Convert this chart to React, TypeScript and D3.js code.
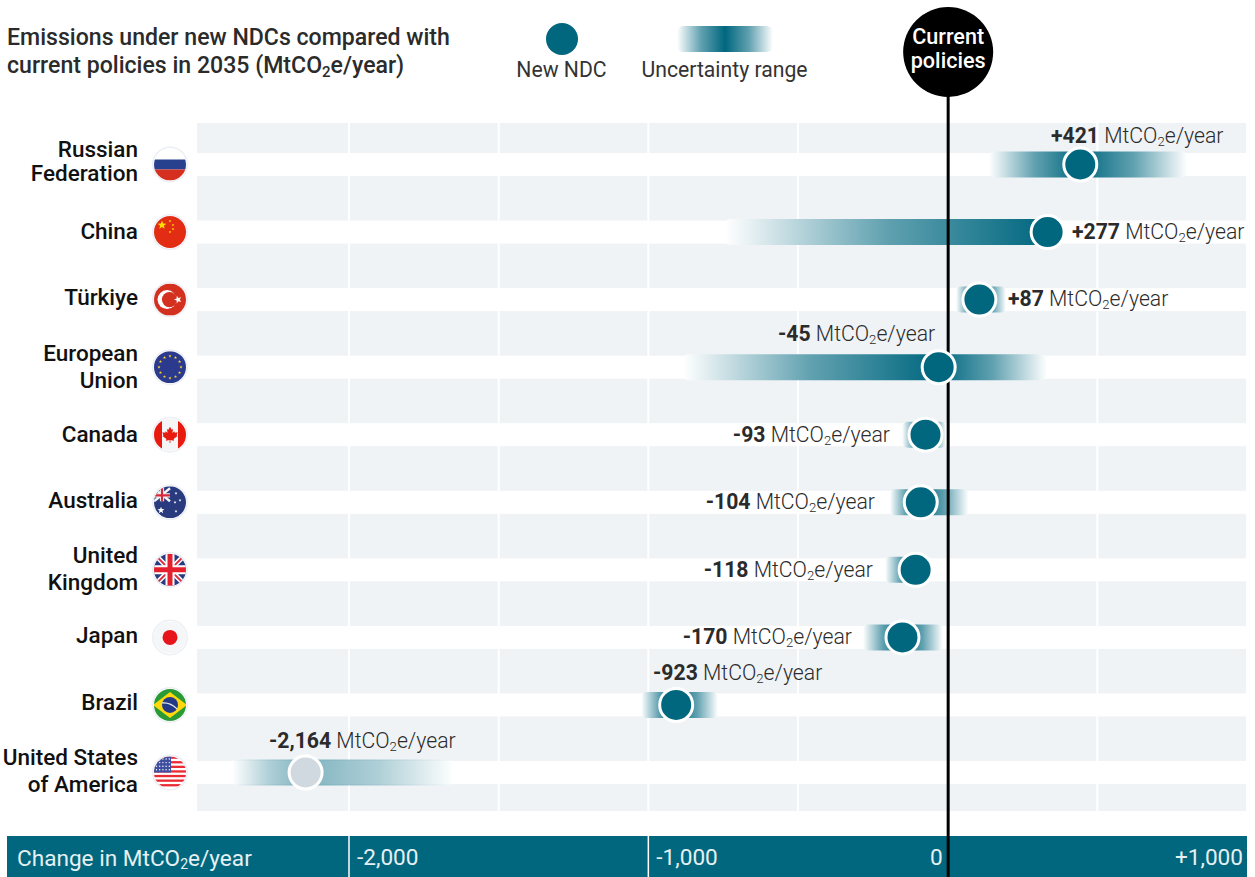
import React from "react";
import * as d3 from "d3";

const countries = ["Russian Federation","China","Türkiye","European Union","Canada","Australia","United Kingdom","Japan","Brazil","United States of America"];
const labelLines = [["Russian","Federation"],["China"],["Türkiye"],["European","Union"],["Canada"],["Australia"],["United","Kingdom"],["Japan"],["Brazil"],["United States","of America"]];
const valueLabels = ["+421","+277","+87","-45","-93","-104","-118","-170","-923","-2,164"];
const dotValues = [443,334,106,-30,-74,-90,-107,-151,-907,-2145];
const lowValues = [138,-744,28,-884,-152,-193,-209,-283,-1024,-2391];
const highValues = [800,334,195,332,-5,70,-95,-16,-767,-1649];
const axisTicks = [-2000,-1500,-1000,-500,0,500,1000];
const axisLabelTicks = [-2000,-1000,0,1000];
const axisLabels = ["-2,000","-1,000","0","+1,000"];
const mapleLeaf = [[0,-8],[1.6,-5],[3,-5.8],[2.4,-1.6],[4.2,-3.4],[4.8,-2],[7.6,-2.4],[6.6,0.8],[7.6,1.4],[3.6,4.4],[4,6],[0.4,5.4],[0.4,8.4],[-0.4,8.4],[-0.4,5.4],[-4,6],[-3.6,4.4],[-7.6,1.4],[-6.6,0.8],[-7.6,-2.4],[-4.8,-2],[-4.2,-3.4],[-2.4,-1.6],[-3,-5.8],[-1.6,-5]];

const TEAL = "#00677F";
const FONT = "Roboto, sans-serif";
const tint = d3.interpolateRgb("#fff", TEAL);

const x = d3.scaleLinear().domain([-2000,1000]).range([349,1247]);
const y = d3.scalePoint<string>().domain(countries).range([164.5,772.5]);

// label placement per row: anchor, x position, y offset from the row centre
const valuePlace: [string, number, number][] = [
  ["start",1051,-29],["start",1072,-0.5],["start",1008,-1],["start",778,-33],
  ["end",890,0],["end",875,0],["end",873,0],["end",852,0],["start",653,-31.5],["start",269,-32],
];
const nameOffsets = [[-15,9],[-0.5],[-1.5],[-13,14],[0],[-1.5],[-14,13.5],[-1.5],[-1.5],[-14.5,12.5]];

function Star({cx,cy,r,fill,rot=0}:{cx:number;cy:number;r:number;fill:string;rot?:number}) {
  const pts = d3.range(10).map(i=>{
    const a = (i*36-90+rot)*Math.PI/180;
    const rr = i%2===0?r:r*0.42;
    return `${cx+rr*Math.cos(a)},${cy+rr*Math.sin(a)}`;
  }).join(" ");
  return <polygon points={pts} fill={fill}/>;
}

function Flag({i,cy}:{i:number;cy:number}) {
  const cx = 170, r = 16;
  const L = cx-r, T = cy-r, S = 2*r;
  let body: React.ReactNode = null;
  if (i===0) body = <>
    <rect x={L} y={T} width={S} height={S} fill="#fff"/>
    <rect x={L} y={cy-5} width={S} height={10} fill="#27418F"/>
    <rect x={L} y={cy+5} width={S} height={11} fill="#D5301F"/>
  </>;
  if (i===1) body = <>
    <rect x={L} y={T} width={S} height={S} fill="#E22C14"/>
    <Star cx={cx-8} cy={cy-7} r={4.6} fill="#FFDE00"/>
    <Star cx={cx} cy={cy-11} r={1.4} fill="#FFDE00"/>
    <Star cx={cx+3} cy={cy-7} r={1.4} fill="#FFDE00"/>
    <Star cx={cx+3} cy={cy-3} r={1.4} fill="#FFDE00"/>
    <Star cx={cx} cy={cy+0} r={1.4} fill="#FFDE00"/>
  </>;
  if (i===2) body = <>
    <rect x={L} y={T} width={S} height={S} fill="#D3301F"/>
    <circle cx={cx-3} cy={cy} r={9.5} fill="#fff"/>
    <circle cx={cx-0.5} cy={cy} r={7.6} fill="#D3301F"/>
    <Star cx={cx+8} cy={cy} r={4} fill="#fff" rot={-90}/>
  </>;
  if (i===3) body = <>
    <rect x={L} y={T} width={S} height={S} fill="#2B3A8C"/>
    {d3.range(12).map(k=>{
      const a = k*30*Math.PI/180;
      return <Star key={k} cx={cx+11*Math.sin(a)} cy={cy-11*Math.cos(a)} r={1.6} fill="#FFD92E"/>;
    })}
  </>;
  if (i===4) body = <>
    <rect x={L} y={T} width={S} height={S} fill="#F5F5F5"/>
    <rect x={L} y={T} width={8} height={S} fill="#E8190F"/>
    <rect x={cx+8} y={T} width={8} height={S} fill="#E8190F"/>
    <polygon points={mapleLeaf.map(([a,b])=>`${cx+a},${cy+b}`).join(" ")} fill="#E8190F"/>
  </>;
  if (i===5) body = <>
    <rect x={L} y={T} width={S} height={S} fill="#2A3A7E"/>
    <path d={`M${L},${T+2}L${cx},${cy-1}M${cx},${T+2}L${L},${cy-1}`} stroke="#F4F4F4" strokeWidth={2.4}/>
    <path d={`M${cx-8},${T+1}V${cy-1}M${L},${cy-7}H${cx}`} stroke="#F4F4F4" strokeWidth={4.2}/>
    <path d={`M${cx-8},${T+1}V${cy-1}M${L},${cy-7}H${cx}`} stroke="#D8283C" strokeWidth={2.2}/>
    <Star cx={cx-9} cy={cy+8} r={3.6} fill="#fff"/>
    <Star cx={cx+6} cy={cy+9} r={1.5} fill="#fff"/>
    <Star cx={cx+6} cy={cy-9} r={1.5} fill="#fff"/>
    <Star cx={cx+10} cy={cy-2} r={1.5} fill="#fff"/>
    <Star cx={cx+5} cy={cy} r={1.5} fill="#fff"/>
  </>;
  if (i===6) body = <>
    <rect x={L} y={T} width={S} height={S} fill="#2A3A7E"/>
    <path d={`M${L},${T}L${L+S},${T+S}M${L+S},${T}L${L},${T+S}`} stroke="#fff" strokeWidth={5}/>
    <path d={`M${L},${T}L${L+S},${T+S}M${L+S},${T}L${L},${T+S}`} stroke="#DE2A3C" strokeWidth={2}/>
    <path d={`M${cx},${T}V${T+S}M${L},${cy}H${L+S}`} stroke="#fff" strokeWidth={9}/>
    <path d={`M${cx},${T}V${T+S}M${L},${cy}H${L+S}`} stroke="#E5202E" strokeWidth={5}/>
  </>;
  if (i===7) body = <>
    <rect x={L} y={T} width={S} height={S} fill="#F5F6F8"/>
    <circle cx={cx} cy={cy} r={7.5} fill="#E8141C"/>
  </>;
  if (i===8) body = <>
    <rect x={L} y={T} width={S} height={S} fill="#2A9A35"/>
    <polygon points={`${L-1},${cy} ${cx},${T+3} ${L+S+1},${cy} ${cx},${T+S-3}`} fill="#FFD80E"/>
    <circle cx={cx} cy={cy} r={8} fill="#253A86"/>
    <path d={`M${cx-8},${cy-2}Q${cx},${cy-3} ${cx+7},${cy+4}`} stroke="#E8EEF0" strokeWidth={1.2} fill="none"/>
  </>;
  if (i===9) body = <>
    <rect x={L} y={T} width={S} height={S} fill="#fff"/>
    {d3.range(7).map(k=><rect key={k} x={L} y={T+k*4.6} width={S} height={2.3} fill="#EA2B33"/>)}
    <rect x={L} y={T} width={17} height={16} fill="#3F4F9F"/>
    {d3.range(4).flatMap(a=>d3.range(5).map(b=><circle key={`${a}-${b}`} cx={L+2.5+b*3.2} cy={T+2.5+a*3.6} r={0.7} fill="#fff"/>))}
  </>;
  return <g>
    <clipPath id={`flag${i}`}><circle cx={cx} cy={cy} r={r}/></clipPath>
    <circle cx={cx} cy={cy} r={18} fill="#ECEFF4"/>
    <circle cx={cx} cy={cy} r={16.5} fill="#fff"/>
    <g clipPath={`url(#flag${i})`}>{body}</g>
  </g>;
}

function Unit({size=21.2}:{size?:number}) {
  return <tspan fontWeight={300}>{" MtCO"}<tspan fontSize={size*0.62} dy={3}>2</tspan><tspan dy={-3}>e/year</tspan></tspan>;
}

function stops(lo:number,mid:number,hi:number){
  const p = (mid-lo)/(hi-lo);
  return <>
    <stop offset={0} stopColor="#fff"/>
    <stop offset={p*0.5} stopColor={tint(0.62)}/>
    <stop offset={p} stopColor={TEAL}/>
    {p<1 && <stop offset={p+(1-p)*0.5} stopColor={tint(0.62)}/>}
    <stop offset={1} stopColor={p>=1?TEAL:"#fff"}/>
  </>;
}

export default function App() {
  const zero = x(0);
  return (
    <svg width={1255} height={877} viewBox="0 0 1255 877" style={{position:"absolute",left:0,top:0,display:"block",background:"#fff"}} fontFamily={FONT}>
      <defs>
        {countries.map((c,i)=>{
          const lo=x(lowValues[i]),hi=x(highValues[i]),mid=x(dotValues[i]);
          return <linearGradient key={c} id={`g${i}`} gradientUnits="userSpaceOnUse" x1={lo} x2={hi} y1={0} y2={0}>{stops(lo,mid,hi)}</linearGradient>;
        })}
        <linearGradient id="gLegend" x1={0} x2={1} y1={0} y2={0}>{stops(0,0.5,1)}</linearGradient>
      </defs>

      {/* title */}
      <text x={7} y={45} fontSize={23.1} fontWeight={500} fill="#2b2b2b">Emissions under new NDCs compared with</text>
      <text x={7} y={73} fontSize={23.1} fontWeight={500} fill="#2b2b2b">current policies in 2035 (MtCO<tspan fontSize={15} dy={4}>2</tspan><tspan dy={-4}>e/year)</tspan></text>

      {/* legend */}
      <circle cx={562} cy={39} r={16} fill={TEAL}/>
      <text x={561.5} y={77} fontSize={21.2} textAnchor="middle" fill="#333">New NDC</text>
      <rect x={677} y={26} width={96} height={26} rx={6} fill="url(#gLegend)"/>
      <text x={724.5} y={77} fontSize={21.2} textAnchor="middle" fill="#333">Uncertainty range</text>

      {/* plot background */}
      <rect x={197} y={123} width={1050} height={688} fill="#EFF3F6"/>
      {countries.map(c=><rect key={c} x={197} y={y(c)!-11.5} width={1050} height={23} fill="#fff"/>)}
      {axisTicks.filter(t=>t!==0).map(t=><line key={t} x1={x(t)} x2={x(t)} y1={123} y2={811} stroke="#fff" strokeWidth={2}/>)}

      {/* axis band */}
      <rect x={7} y={836} width={1240} height={41} fill={TEAL}/>
      <text x={17} y={866} fontSize={22.6} fill="#E6F0F2" fontWeight={400}>Change in MtCO<tspan fontSize={14} dy={3}>2</tspan><tspan dy={-3}>e/year</tspan></text>
      {axisLabelTicks.filter(t=>t!==0&&t!==1000).map(t=><line key={t} x1={x(t)} x2={x(t)} y1={836} y2={877} stroke="#fff" strokeWidth={1.5}/>)}
      {axisLabelTicks.map((t,i)=>(
        <text key={t} x={t===0?zero-5:t===1000?1243:x(t)+8} y={865} fontSize={22.6} textAnchor={t===0||t===1000?"end":"start"} fill="#E6F0F2">{axisLabels[i]}</text>
      ))}

      {/* uncertainty bars */}
      {countries.map((c,i)=>(
        <rect key={c} x={x(lowValues[i])} y={y(c)!-13} width={x(highValues[i])-x(lowValues[i])} height={26} rx={5} fill={`url(#g${i})`} opacity={i===9?0.5:1}/>
      ))}

      {/* reference line */}
      <line x1={zero+0.5} x2={zero+0.5} y1={60} y2={877} stroke="#000" strokeWidth={3}/>
      <circle cx={zero+0.5} cy={52} r={45} fill="#000"/>
      <text x={zero+0.5} y={44} fontSize={21.6} fontWeight={500} fill="#fff" textAnchor="middle">Current</text>
      <text x={zero+0.5} y={68} fontSize={21.6} fontWeight={500} fill="#fff" textAnchor="middle">policies</text>

      {/* dots */}
      {countries.map((c,i)=>(
        <circle key={c} cx={x(dotValues[i])} cy={y(c)!} r={16.5} fill={i===9?"#CFD9DF":TEAL} stroke="#fff" strokeWidth={3}/>
      ))}

      {/* value labels */}
      {countries.map((c,i)=>{
        const [anchor,px,dy]=valuePlace[i];
        return <text key={c} x={px} y={y(c)!+dy+7} fontSize={21.2} textAnchor={anchor as any} fill="#2b2b2b">
          <tspan fontWeight={700}>{valueLabels[i]}</tspan><Unit/>
        </text>;
      })}

      {/* names & flags */}
      {countries.map((c,i)=>(
        <g key={c}>
          {labelLines[i].map((ln,k)=>(
            <text key={k} x={138} y={y(c)!+nameOffsets[i][k]+7} fontSize={22.5} fontWeight={500} textAnchor="end" fill="#111">{ln}</text>
          ))}
          <Flag i={i} cy={y(c)!}/>
        </g>
      ))}
    </svg>
  );
}
